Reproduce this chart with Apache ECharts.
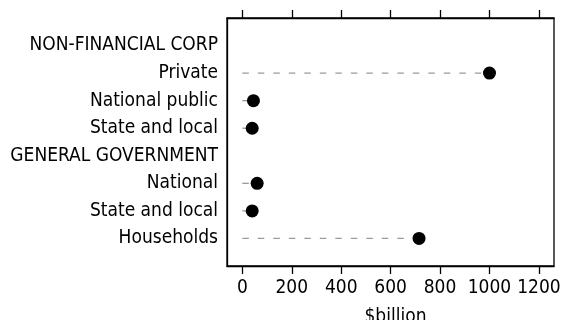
<!DOCTYPE html>
<html>
<head>
<meta charset="utf-8">
<script src="https://cdn.jsdelivr.net/npm/echarts@6/dist/echarts.min.js"></script>
<style>html,body{margin:0;padding:0;background:#fff}#c{width:563px;height:320px}</style>
</head>
<body>
<div id="c"></div>
<script>
var categories = ['NON-FINANCIAL CORP', 'Private', 'National public', 'State and local', 'GENERAL GOVERNMENT', 'National', 'State and local', 'Households'];
var values = [null, 1000, 45, 40, null, 60, 40, 715];
var tickValues = [0, 200, 400, 600, 800, 1000, 1200];
var axisName = '$billion';

var FONT = '"DejaVu Sans Condensed", "Liberation Sans", Arial, sans-serif';
var rows = [];
var dots = [];
categories.forEach(function (c, i) {
  if (values[i] != null) {
    rows.push([values[i], i + 1]);
    dots.push([values[i], i + 1]);
  }
});
var rowIdx = categories.map(function (c, i) { return i + 1; });

var chart = echarts.init(document.getElementById('c'), null, {renderer: 'canvas'});
chart.setOption({
  animation: false,
  grid: {left: 227, right: 9, top: 18, bottom: 54, containLabel: false, outerBoundsMode: 'none',
    show: true, borderColor: '#000', borderWidth: 1.3, backgroundColor: 'transparent'},
  xAxis: [{
    type: 'value', min: -62, max: 1261, position: 'bottom',
    name: axisName, nameLocation: 'middle', nameGap: 42,
    nameTextStyle: {fontFamily: FONT, fontSize: 19, color: '#000', padding: [0, 0, 0, 10]},
    axisLine: {show: true, onZero: false, lineStyle: {color: '#000', width: 1.3}},
    axisTick: {show: true, length: 8, inside: false, customValues: tickValues, lineStyle: {color: '#000', width: 1.3}},
    axisLabel: {customValues: tickValues, fontFamily: FONT, fontSize: 19, color: '#000', margin: 13,
      hideOverlap: false, showMaxLabel: true, showMinLabel: true,
      formatter: function (v) { return String(v); }},
    splitLine: {show: false}
  }, {
    type: 'value', min: -62, max: 1261, position: 'top',
    axisLine: {show: true, onZero: false, lineStyle: {color: '#000', width: 1.3}},
    axisTick: {show: true, length: 8, inside: false, customValues: tickValues, lineStyle: {color: '#000', width: 1.3}},
    axisLabel: {show: false},
    splitLine: {show: false}
  }],
  yAxis: {
    type: 'value', min: 0, max: 9, inverse: true,
    axisLine: {show: true, onZero: false, lineStyle: {color: '#000', width: 1.3}},
    axisTick: {show: false},
    splitLine: {show: false},
    axisLabel: {
      customValues: rowIdx, fontFamily: FONT, fontSize: 19, color: '#000', margin: 9,
      hideOverlap: false,
      formatter: function (v) { return categories[Math.round(v) - 1] || ''; }
    }
  },
  series: [{
    type: 'custom',
    data: rows,
    renderItem: function (params, api) {
      var a = api.coord([0, api.value(1)]);
      var b = api.coord([api.value(0), api.value(1)]);
      return {type: 'line', shape: {x1: a[0], y1: a[1], x2: b[0], y2: b[1]},
        style: {stroke: '#9a9a9a', lineWidth: 1.3, lineDash: [6.5, 9]}};
    },
    silent: true, z: 1
  }, {
    type: 'scatter',
    data: dots,
    symbol: 'circle', symbolSize: 13,
    itemStyle: {color: '#000', opacity: 1},
    z: 3
  }]
});
</script>
</body>
</html>
